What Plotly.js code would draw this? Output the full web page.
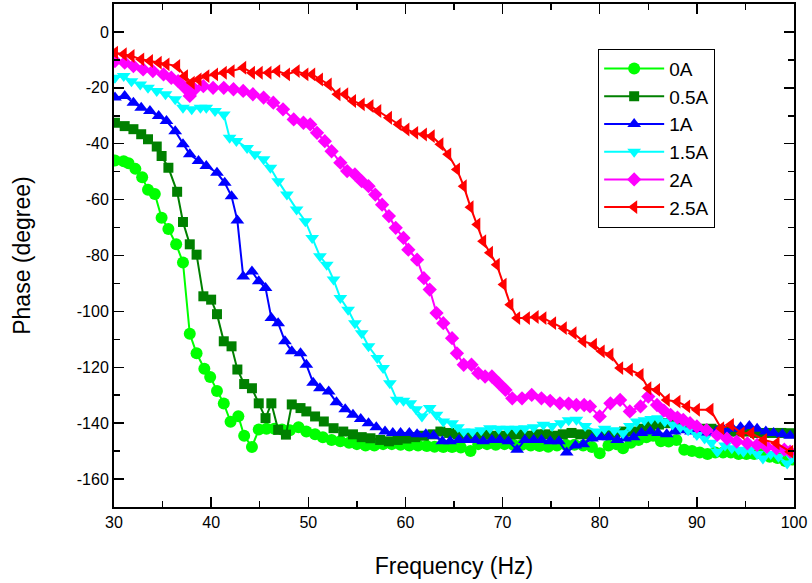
<!DOCTYPE html>
<html><head><meta charset="utf-8">
<script src="https://cdn.plot.ly/plotly-3.0.1.min.js"></script>
<style>html,body{margin:0;padding:0;background:#fff}#chart{width:812px;height:583px}</style>
</head><body><div id="chart"></div>
<script>
var seriesNames = ["0A", "0.5A", "1A", "1.5A", "2A", "2.5A"];

var x0A = [30.1,31.0,31.5,32.2,32.9,33.5,34.2,34.9,35.6,36.4,37.1,37.8,38.5,39.3,39.9,40.6,41.3,42.0,42.8,43.4,44.2,44.9,45.7,46.5,47.3,48.1,49.0,49.8,50.7,51.5,52.4,53.3,54.2,55.0,55.9,56.8,57.7,58.6,59.5,60.4,61.3,62.2,63.0,63.9,64.8,65.7,66.7,67.5,68.4,69.3,70.2,71.1,72.0,72.9,73.8,74.7,75.6,76.5,77.4,78.3,79.2,80.0,80.9,81.7,82.4,83.2,84.0,84.8,85.5,86.3,87.1,87.9,88.7,89.5,90.3,91.1,91.9,92.7,93.5,94.3,95.1,95.9,96.7,97.5,98.3,99.1,99.8];
var y0A = [-46,-46.3,-47,-49,-52,-56.5,-58,-66.5,-70.5,-76,-82.5,-108,-115,-120.5,-123.5,-128.5,-133,-139.5,-137.5,-144.5,-148.5,-142.3,-142,-142,-142.3,-142.5,-141.5,-143,-144,-145,-146,-146.5,-147,-147.5,-148,-148,-147.5,-147.5,-147.7,-148,-148,-148.2,-148.4,-148.5,-148.5,-148.7,-150,-147.5,-147.5,-147.7,-147.5,-147.7,-147.7,-148,-148.2,-148.4,-148,-147.7,-147.7,-148,-148.5,-150.8,-148,-147.5,-149,-147,-146,-145,-144.5,-146.5,-146.6,-146,-149.5,-150,-150.5,-151,-150.5,-150.5,-150.5,-151,-151,-151,-151,-152,-152.5,-153.5,-153];

var x05A = [30.1,31.1,32.0,32.8,33.5,34.4,34.9,35.6,36.5,37.1,37.8,38.5,39.2,40.0,40.6,41.3,42.1,42.7,43.4,44.2,44.9,45.6,46.2,46.9,47.7,48.3,49.2,49.8,50.7,51.6,52.6,53.6,54.6,55.5,56.4,57.4,58.3,59.2,60.1,61.0,61.9,62.8,63.6,64.5,65.4,66.3,67.2,68.1,69.0,69.9,70.8,71.7,72.6,73.5,74.4,75.3,76.2,77.1,78.0,78.9,79.8,80.7,81.6,82.5,83.4,84.3,85.2,86.1,87.0,87.9,88.8,89.7,90.6,91.5,92.4,93.3,94.2,95.1,96.0,96.9,97.8,98.7,99.6];
var y05A = [-32.5,-33.7,-34.8,-36.6,-38.4,-41,-44.4,-48.6,-57.2,-68,-76,-79.7,-94.6,-95.8,-101,-110.7,-112.5,-120.8,-126,-127.5,-132.9,-138.2,-132.9,-142.4,-144.1,-133.3,-134.6,-135.8,-137.6,-139.4,-141.8,-143,-144,-145,-145.4,-146,-146.5,-146,-145.5,-145,-144.5,-144,-143,-143.5,-144,-144,-144,-144,-144.5,-144.5,-144,-144,-144.5,-144,-144,-144.5,-144,-143.5,-144,-144,-144,-143.5,-143.5,-143,-143,-142,-141,-140.5,-140,-140.5,-141,-141.5,-142,-142,-142.5,-143,-143,-143,-143.5,-143.5,-143.5,-143.5,-143.6];

var x1A = [30.1,31.1,32.0,32.8,33.7,34.6,35.4,36.3,37.1,37.8,38.7,39.5,40.6,41.4,42.1,42.7,43.3,44.2,44.9,45.6,46.2,46.9,47.6,48.3,49.2,49.8,50.5,51.2,52.1,52.9,53.8,54.6,55.4,56.2,57.0,57.9,58.7,59.5,60.4,61.2,62.1,62.9,63.8,64.6,65.5,66.3,67.2,68.0,68.9,69.7,70.6,71.5,72.3,73.2,74.0,74.9,75.8,76.6,77.5,78.3,79.2,80.1,80.9,81.8,82.6,83.5,84.3,85.2,86.0,86.9,87.7,88.6,89.4,90.3,91.1,92.0,92.8,93.7,94.5,95.4,96.2,97.1,97.9,98.8,99.6];
var y1A = [-23.5,-22.9,-25.3,-27.1,-28.3,-30.1,-31.9,-35.5,-40.2,-43.8,-46.2,-48,-50.4,-54,-58.8,-67.5,-87.5,-85.7,-89.2,-91.6,-102.4,-104.2,-110.7,-114.3,-115,-119.1,-125.5,-127.5,-128.7,-132.5,-135,-137,-138.5,-140,-141.5,-143,-143.5,-143.5,-143.5,-144,-144,-144.5,-146.5,-146.5,-146,-146,-146,-146.5,-146,-146,-146.5,-149.5,-146,-146,-146,-146.5,-146.5,-150.5,-148,-147.5,-145.5,-145,-145,-146,-145.5,-145,-143.5,-143,-143.5,-144,-143,-142.5,-143,-144,-143.5,-143,-142.5,-142,-141.5,-141,-142,-143,-143.5,-144,-144.5];

var x15A = [30.1,31.0,31.8,32.7,33.5,34.4,35.3,36.3,37.1,38.0,38.9,39.5,40.4,41.3,41.9,42.6,43.7,44.5,45.4,46.1,46.9,47.8,48.8,49.7,50.4,51.2,51.9,52.6,53.3,54.1,54.8,55.5,56.2,57.1,57.7,58.4,59.1,59.8,60.5,61.1,61.7,62.5,63.2,63.9,64.8,65.4,66.0,66.9,67.8,68.7,69.6,70.5,71.4,72.3,73.2,74.2,75.1,76.0,76.8,77.6,78.5,79.7,80.5,81.5,82.4,83.1,83.8,84.6,85.3,86.0,86.7,87.5,88.3,89.1,90.0,90.8,91.5,92.1,92.9,93.6,94.3,94.8,95.5,96.2,96.8,97.6,98.4,99.3,99.8];
var y15A = [-16.4,-15.8,-17.6,-18.8,-20,-21.1,-22.3,-24.1,-27.1,-27.7,-27.1,-27.1,-28.3,-29.5,-37.9,-39,-41.5,-43.8,-45.6,-48.6,-53.4,-58.2,-63.5,-67.7,-73.7,-80.3,-83.3,-88.6,-95.2,-99.4,-104.2,-107.8,-112.5,-116.7,-120.3,-125.7,-131.6,-132,-132.9,-135,-137.6,-134.6,-137,-139.4,-140,-141.5,-143,-143,-142.5,-141.8,-142,-142,-142,-141.8,-141.5,-140.6,-141,-140,-139,-138.8,-141,-143,-142,-142.5,-143.6,-141,-139.4,-139,-138.5,-138.2,-139.4,-140.5,-141.5,-142.5,-144.2,-145.5,-147,-150.2,-148,-149,-149.5,-150.2,-149.5,-151,-152.6,-151,-152,-154.4,-152.5];

var x2A = [30.1,31.1,32.0,33.0,34.0,35.1,35.9,36.6,37.3,37.8,38.3,39.2,40.2,41.3,42.3,43.3,44.3,45.4,46.4,47.4,48.5,49.5,50.2,50.9,51.7,52.4,53.3,54.0,54.8,55.5,56.2,56.9,57.6,58.3,59.0,59.8,60.3,61.2,61.9,62.5,63.2,63.9,64.8,65.3,66.0,66.8,67.5,68.2,68.9,69.6,70.3,71.0,72.0,73.0,74.0,74.9,75.9,76.8,77.6,78.4,79.0,80.0,81.1,82.1,83.1,84.2,85.0,85.9,86.6,87.3,88.0,88.6,89.3,90.0,91.0,92.1,93.1,94.1,95.2,96.2,97.2,98.2,99.0,99.6];
var y2A = [-10.4,-11,-12.2,-13.4,-14,-15.2,-16.4,-17.6,-20,-22.9,-20.5,-19.4,-20,-20,-20.5,-21.1,-22.3,-23.5,-25.3,-27.7,-31.3,-32.5,-33.1,-36.1,-39.1,-42.7,-46.8,-49.8,-51,-53.4,-55.2,-58.2,-61.8,-65.9,-70.1,-73.7,-77.9,-81.5,-88.1,-92.2,-100.6,-104.2,-109.6,-115,-119.1,-119.1,-122.1,-123.3,-123.3,-125.7,-128.1,-131.1,-131.1,-129.9,-131.1,-132,-132.9,-133,-133.5,-133.5,-134,-137.6,-132.9,-131.7,-135.8,-134,-130.5,-133.5,-135.5,-137,-138,-138.8,-140,-141.2,-142.5,-144.2,-145.5,-146.6,-147.2,-147.8,-148.5,-149,-149.5,-150.2];

var x25A = [30.1,31.0,31.8,32.8,33.7,34.6,35.4,36.5,37.3,38.0,38.7,39.5,40.4,41.3,42.1,43.3,44.2,45.0,45.9,46.8,47.8,48.8,49.7,50.4,51.2,52.1,53.0,53.8,54.6,55.5,56.4,57.2,58.3,59.3,60.1,61.0,61.9,62.7,63.6,64.4,65.3,66.0,66.7,67.4,68.0,68.7,69.4,70.1,70.8,71.5,72.5,73.4,74.2,75.2,76.3,77.3,78.3,79.4,80.2,81.1,82.1,83.1,84.2,85.0,85.9,86.9,88.0,89.0,90.0,91.4,92.5,93.5,94.6,95.6,96.9,98.2,99.6];
var y25A = [-7.4,-8,-8.6,-9.8,-10.4,-11,-11.6,-12.2,-15.8,-18.2,-17,-15.8,-15.2,-14.6,-14,-12.8,-14.6,-14.6,-14.6,-14,-15.2,-14,-15.2,-15.2,-17,-18.8,-22.3,-22.3,-24.7,-25.9,-26.5,-28.3,-30.7,-33.1,-34.9,-36.1,-36.7,-37.3,-40.2,-43.8,-49.2,-55.2,-62.7,-68.9,-74.9,-79,-83.3,-90.4,-97.6,-102.4,-102.4,-102,-102.4,-104.2,-106,-107.8,-110.7,-111.9,-114.3,-115.5,-120.3,-120.9,-122.7,-127.5,-128.1,-131.7,-132.3,-134,-135.2,-135.2,-141.8,-140.6,-143.6,-143.6,-146,-147.2,-150.2];

var xTickVals = [30,40,50,60,70,80,90,100];
var yTickVals = [-160,-140,-120,-100,-80,-60,-40,-20,0];

var xs = [x0A, x05A, x1A, x15A, x2A, x25A];
var ys = [y0A, y05A, y1A, y15A, y2A, y25A];
var colors = ["#00FF00", "#008000", "#0000FF", "#00FFFF", "#FF00FF", "#FF0000"];
var symbols = ["circle", "square", "triangle-up", "triangle-down", "diamond", "triangle-left"];
var sizes = [12, 10, 12, 12, 11, 12];

var traces = seriesNames.map(function(n, i){
  return {
    x: xs[i], y: ys[i], name: n, type: "scatter", mode: "lines+markers",
    line: {color: colors[i], width: 2},
    marker: {color: colors[i], symbol: symbols[i], size: sizes[i]}
  };
});

var fontFam = "Liberation Sans, Arial, sans-serif";
var layout = {
  width: 812, height: 583,
  margin: {l: 114, r: 18, t: 4, b: 76},
  paper_bgcolor: "#fff", plot_bgcolor: "#fff",
  font: {family: fontFam, color: "#000", size: 16},
  showlegend: true,
  legend: {x: 0.712, y: 0.911, xanchor: "left", yanchor: "top",
    bgcolor: "#fff", bordercolor: "#000", borderwidth: 1,
    font: {family: fontFam, size: 19, color: "#000"}, itemwidth: 60},
  xaxis: {
    range: [30, 100], tickvals: xTickVals, ticktext: xTickVals.map(String),
    ticks: "inside", ticklen: 10, tickwidth: 1.5, tickcolor: "#000",
    showline: true, linecolor: "#000", linewidth: 2, mirror: "ticks",
    showgrid: false, zeroline: false, automargin: false,
    minor: {ticks: "inside", dtick: 5, tick0: 0, ticklen: 6, tickwidth: 1.5, tickcolor: "#000", showgrid: false},
    tickfont: {size: 16, family: fontFam},
    title: {text: "Frequency (Hz)", font: {size: 23, family: fontFam}, standoff: 28}
  },
  yaxis: {
    range: [-170, 10], tickvals: yTickVals, ticktext: yTickVals.map(String),
    ticks: "inside", ticklen: 10, tickwidth: 1.5, tickcolor: "#000",
    showline: true, linecolor: "#000", linewidth: 2, mirror: "ticks",
    showgrid: false, zeroline: false, automargin: false,
    minor: {ticks: "inside", dtick: 10, tick0: 0, ticklen: 6, tickwidth: 1.5, tickcolor: "#000", showgrid: false},
    tickfont: {size: 16, family: fontFam},
    title: {text: "Phase (degree)", font: {size: 23, family: fontFam}, standoff: 40}
  }
};
Plotly.newPlot("chart", traces, layout, {displayModeBar: false, staticPlot: true});
</script>
</body></html>
